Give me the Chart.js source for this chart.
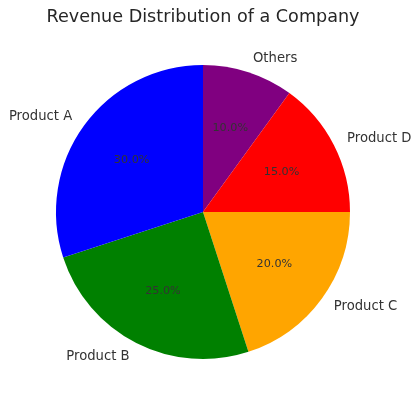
<!DOCTYPE html>
<html>
<head>
<meta charset="utf-8">
<script src="https://cdn.jsdelivr.net/npm/chart.js@4/dist/chart.umd.min.js"></script>
<style>
  html, body { margin: 0; padding: 0; background: #ffffff; }
  #wrap { width: 420px; height: 404px; position: relative; }
</style>
</head>
<body>
<div id="wrap"><canvas id="c" width="420" height="404"></canvas></div>
<script>
const titleText = 'Revenue Distribution of a Company';
const categories = ['Product A', 'Product B', 'Product C', 'Product D', 'Others'];
const revenueShare = [30, 25, 20, 15, 10];
const sliceColors = ['#0000ff', '#008000', '#ffa500', '#ff0000', '#800080'];

// matplotlib draws counter-clockwise from the top; Chart.js draws clockwise,
// so feed the slices in reverse order.
const drawLabels = categories.slice().reverse();
const drawValues = revenueShare.slice().reverse();
const drawColors = sliceColors.slice().reverse();
const total = revenueShare.reduce((a, b) => a + b, 0);

const labelPlugin = {
  id: 'pieLabels',
  afterDraw(chart) {
    const ctx = chart.ctx;
    const meta = chart.getDatasetMeta(0);
    ctx.save();
    // title
    ctx.fillStyle = '#262626';
    ctx.font = '17.6px "DejaVu Sans"';
    ctx.textAlign = 'center';
    ctx.textBaseline = 'middle';
    ctx.fillText(titleText, 203, 17);

    meta.data.forEach((arc, i) => {
      const p = arc.getProps(['x', 'y', 'startAngle', 'endAngle', 'outerRadius'], true);
      const mid = (p.startAngle + p.endAngle) / 2;
      const c = Math.cos(mid), s = Math.sin(mid);
      // outer category label
      const rl = p.outerRadius * 1.1;
      ctx.font = '13.2px "DejaVu Sans"';
      ctx.fillStyle = '#333333';
      ctx.textAlign = c < 0 ? 'right' : 'left';
      ctx.textBaseline = 'middle';
      ctx.fillText(drawLabels[i], p.x + rl * c, p.y + rl * s);
      // percentage label
      const rp = p.outerRadius * 0.6;
      ctx.font = '11.2px "DejaVu Sans"';
      ctx.fillStyle = '#333333';
      ctx.textAlign = 'center';
      const pct = (drawValues[i] / total * 100).toFixed(1) + '%';
      ctx.fillText(pct, p.x + rp * c, p.y + rp * s);
    });
    ctx.restore();
  }
};

new Chart(document.getElementById('c'), {
  type: 'pie',
  data: {
    labels: drawLabels,
    datasets: [{
      data: drawValues,
      backgroundColor: drawColors,
      borderWidth: 0
    }]
  },
  options: {
    responsive: false,
    animation: false,
    events: [],
    layout: { padding: { top: 65, bottom: 45, left: 0, right: 14 } },
    plugins: {
      legend: { display: false },
      title: { display: false },
      tooltip: { enabled: false }
    }
  },
  plugins: [labelPlugin]
});
</script>
</body>
</html>
